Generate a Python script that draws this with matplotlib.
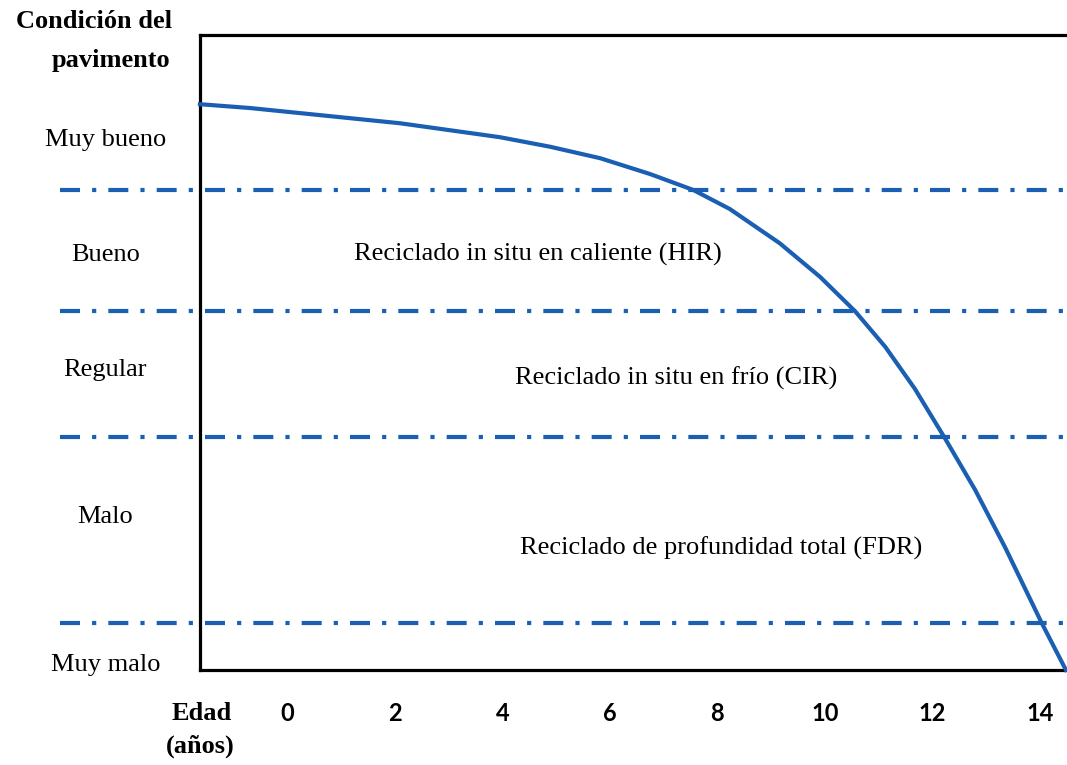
import matplotlib.pyplot as plt

# condition curve (age in years, condition 0-100)
edad = [-1.62, -0.69, 0.24, 1.17, 2.10, 3.03, 3.96, 4.89, 5.82, 6.75,
        7.55, 8.23, 9.16, 9.91, 10.56, 11.12, 11.67, 12.23, 12.79,
        13.35, 14.03, 14.48]
condicion = [89.1, 88.5, 87.7, 86.9, 86.1, 85.0, 83.9, 82.4, 80.6, 78.1,
             75.6, 72.6, 67.2, 61.9, 56.5, 50.9, 44.3, 36.5, 28.4,
             19.3, 7.4, 0.0]

# limits between condition classes
limites = [75.6, 56.5, 36.7, 7.4]

# condition classes and where their labels sit
clases = ['Muy bueno', 'Bueno', 'Regular', 'Malo', 'Muy malo']
clases_y = [83.5, 65.4, 47.2, 24.1, 0.8]

# recycling methods in each band
metodos = ['Reciclado in situ en caliente (HIR)',
           'Reciclado in situ en frío (CIR)',
           'Reciclado de profundidad total (FDR)']
metodos_x = [4.66, 7.23, 8.07]
metodos_y = [65.4, 46.0, 19.2]

anios = [0, 2, 4, 6, 8, 10, 12, 14]

AZUL = '#1b5fb3'
SERIF = 'Liberation Serif'

fig = plt.figure(figsize=(10.67, 7.65), dpi=100)
ax = fig.add_axes([200 / 1067, 95 / 765, 867 / 1067, 635 / 765])
ax.set_xlim(-1.62, 14.5)
ax.set_ylim(0, 100)

for lado in ['left', 'top', 'bottom']:
    ax.spines[lado].set_linewidth(2.3)
    ax.spines[lado].set_color('black')
ax.spines['right'].set_visible(False)

# dash-dot class limits, running past the left axis
for y in limites:
    ax.plot([-4.22, 14.5], [y, y], color=AZUL, lw=3,
            linestyle=(0, (4.8, 2.9, 1.0, 2.9)), clip_on=False, zorder=2)

ax.plot(edad, condicion, color=AZUL, lw=3, zorder=3, clip_on=False,
        solid_joinstyle='round')

ax.set_xticks(anios)
ax.set_xticklabels([str(a) for a in anios], fontfamily='Lato',
                   fontweight='bold', fontsize=17)
ax.tick_params(axis='x', length=0, pad=23)
ax.set_yticks([])

for txt, y in zip(clases, clases_y):
    ax.text(-3.38, y, txt, ha='center', va='center', fontsize=19,
            fontfamily=SERIF, clip_on=False)

for txt, x, y in zip(metodos, metodos_x, metodos_y):
    ax.text(x, y, txt, ha='center', va='center', fontsize=19,
            fontfamily=SERIF)

fig.text(172 / 1067, 1 - 21 / 765, 'Condición del', ha='right', va='center',
         fontsize=19, fontweight='bold', fontfamily=SERIF)
fig.text(170 / 1067, 1 - 61 / 765, 'pavimento', ha='right', va='center',
         fontsize=19, fontweight='bold', fontfamily=SERIF)
fig.text(202 / 1067, 1 - 714 / 765, 'Edad', ha='center', va='center',
         fontsize=19, fontweight='bold', fontfamily=SERIF)
fig.text(200 / 1067, 1 - 746 / 765, '(años)', ha='center', va='center',
         fontsize=19, fontweight='bold', fontfamily=SERIF)

fig.savefig('out.png', dpi=100)
